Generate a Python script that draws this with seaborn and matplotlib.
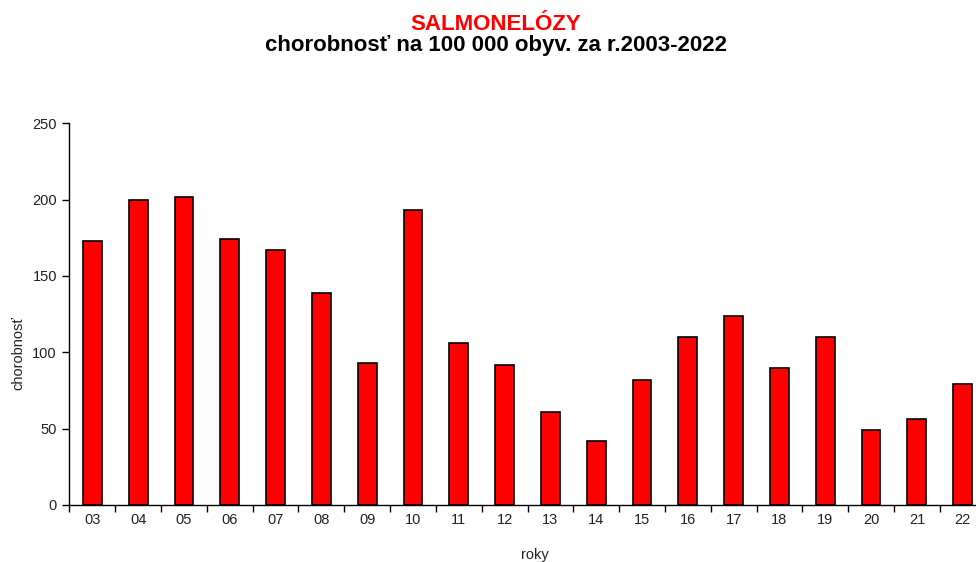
import matplotlib
matplotlib.use("Agg")
import matplotlib.pyplot as plt
import seaborn as sns
import pandas as pd
from matplotlib.ticker import FixedLocator

years = ["03", "04", "05", "06", "07", "08", "09", "10", "11", "12",
         "13", "14", "15", "16", "17", "18", "19", "20", "21", "22"]
values = [173, 200, 202, 174, 167, 139, 93, 193, 106, 92,
          61, 42, 82, 110, 124, 90, 110, 49, 56, 79]

title = "SALMONELÓZY"
subtitle = "chorobnosť na 100 000 obyv. za r.2003-2022"
xlabel = "roky"
ylabel = "chorobnosť"

sns.set_style("white")
plt.rcParams['font.family'] = ['Liberation Sans', 'DejaVu Sans']

df = pd.DataFrame({"rok": years, "chorobnost": values})

fig = plt.figure(figsize=(9.76, 5.62), dpi=100)
ax = fig.add_axes([69.4/976, 1 - 505/562, (985.6 - 69.4)/976, (505 - 123.3)/562])

sns.barplot(data=df, x="rok", y="chorobnost", color="#ff0000", saturation=1,
            width=0.41, edgecolor="black", linewidth=1.2, ax=ax)

ax.set_ylim(0, 250)
ax.set_xlim(-0.5, len(years) - 0.5)
ax.set_yticks([0, 50, 100, 150, 200, 250])
ax.xaxis.set_minor_locator(FixedLocator([i - 0.5 for i in range(len(years) + 1)]))
ax.tick_params(axis="x", which="major", length=0, pad=6, labelsize=10.5, colors="#222222")
ax.tick_params(axis="x", which="minor", length=5, width=1, color="black", direction="out", bottom=True)
ax.tick_params(axis="y", which="major", length=5, width=1, color="black", direction="out",
               left=True, labelsize=10.5, labelcolor="#222222", pad=4)

for s in ["top", "right"]:
    ax.spines[s].set_visible(False)
for s in ["left", "bottom"]:
    ax.spines[s].set_color("black")
    ax.spines[s].set_linewidth(1.0)

ax.set_xlabel("")
ax.set_ylabel("")
fig.text(535/976, 1 - 555/562, xlabel, ha="center", va="center", fontsize=10.5, color="#222222")
fig.text(18/976, 1 - 353/562, ylabel, ha="center", va="center", rotation=90, fontsize=10.5, color="#222222")

fig.text(496/976, 1 - 30/562, title, ha="center", va="baseline", fontsize=16,
         fontweight="bold", color="#ff0000")
fig.text(496/976, 1 - 51/562, subtitle, ha="center", va="baseline", fontsize=16,
         fontweight="bold", color="black")

fig.savefig("out.png", dpi=100)
